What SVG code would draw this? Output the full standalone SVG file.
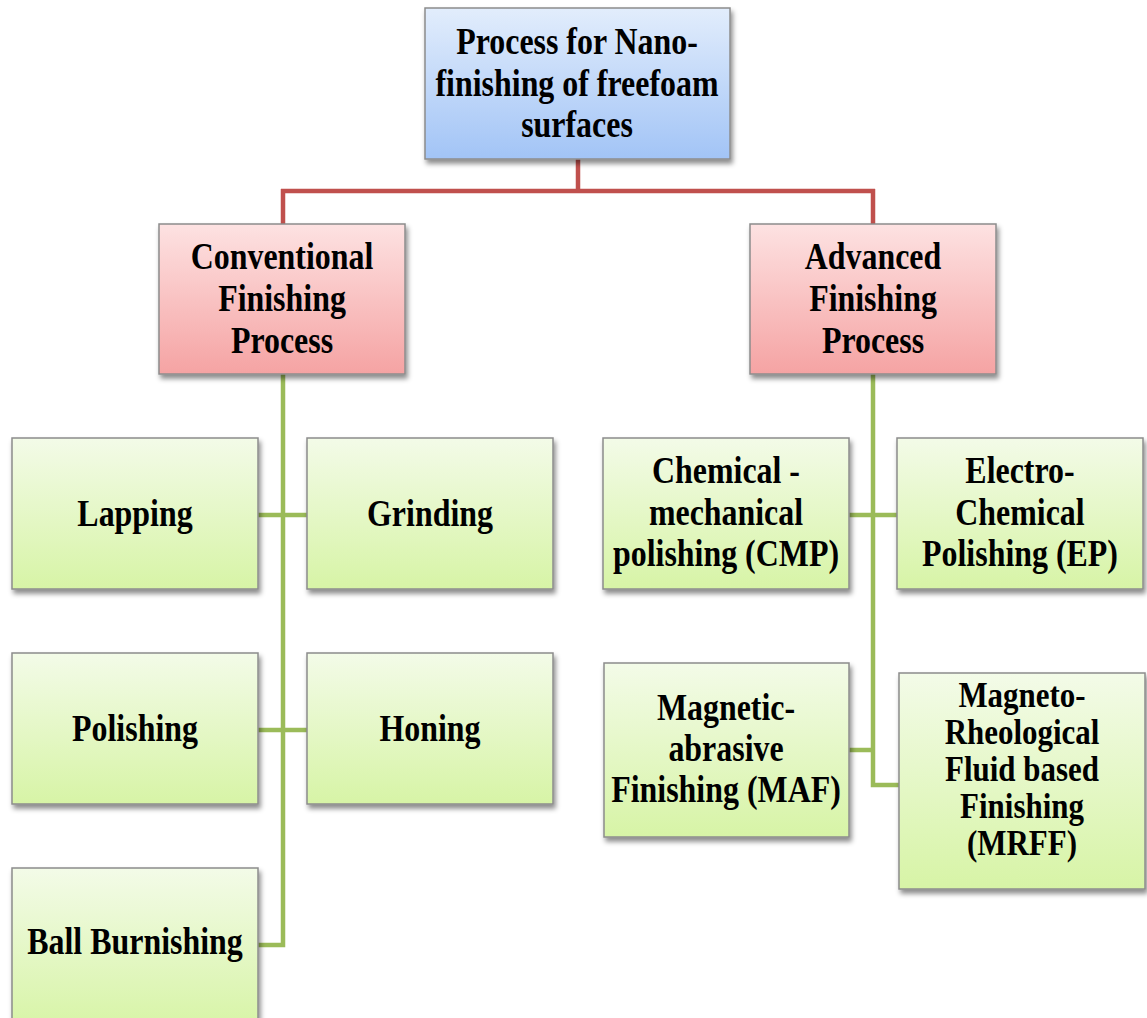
<svg xmlns="http://www.w3.org/2000/svg" width="1147" height="1018" viewBox="0 0 1147 1018">
<defs>
<linearGradient id="gBlue" x1="0" y1="0" x2="0" y2="1"><stop offset="0" stop-color="#e2edfc"/><stop offset="1" stop-color="#a2c4f6"/></linearGradient>
<linearGradient id="gRed" x1="0" y1="0" x2="0" y2="1"><stop offset="0" stop-color="#fde2e2"/><stop offset="1" stop-color="#f5a3a3"/></linearGradient>
<linearGradient id="gGreen" x1="0" y1="0" x2="0" y2="1"><stop offset="0" stop-color="#f3fbe8"/><stop offset="1" stop-color="#d7f4a6"/></linearGradient>
<filter id="sh" x="-10%" y="-10%" width="125%" height="130%"><feDropShadow dx="2" dy="4" stdDeviation="2.5" flood-color="#000" flood-opacity="0.45"/></filter>
</defs>
<style>
.box{stroke:#8c8c8c;stroke-width:1.5;filter:url(#sh)}
.blue{fill:url(#gBlue)}
.red{fill:url(#gRed)}
.green{fill:url(#gGreen)}
.t{font-family:"Liberation Serif","Times New Roman",serif;font-weight:bold;font-size:38px;fill:#000;text-anchor:middle}
.s{font-size:36px}
.cr{fill:none;stroke:#c0504d;stroke-width:4.5}
.cg{fill:none;stroke:#9bbb59;stroke-width:4.5}
</style>
<rect width="1147" height="1018" fill="#fff"/>
<g id="connectors">
<path class="cr" d="M578,159 V191 M281,191 H875 M283,189 V224 M873,189 V224"/>
<path class="cg" d="M283,374 V945 H258 M258,515 H307 M258,730 H307"/>
<path class="cg" d="M873,374 V785 H899 M848,515 H897 M848,750 H873"/>
</g>
<g id="root">
<rect class="box blue" x="425" y="8" width="305" height="151"/>
<text class="t" transform="translate(577,0) scale(0.84,1)"><tspan x="0" y="54">Process for Nano-</tspan><tspan x="0" y="96">finishing of freefoam</tspan><tspan x="0" y="137">surfaces</tspan></text>
</g>
<g id="conventional">
<rect class="box red" x="159" y="224" width="246" height="150"/>
<text class="t" transform="translate(282,0) scale(0.84,1)"><tspan x="0" y="269">Conventional</tspan><tspan x="0" y="311">Finishing</tspan><tspan x="0" y="353">Process</tspan></text>
</g>
<g id="advanced">
<rect class="box red" x="750" y="224" width="246" height="150"/>
<text class="t" transform="translate(873,0) scale(0.84,1)"><tspan x="0" y="269">Advanced</tspan><tspan x="0" y="311">Finishing</tspan><tspan x="0" y="353">Process</tspan></text>
</g>
<g id="lapping">
<rect class="box green" x="12" y="438" width="246" height="151"/>
<text class="t" transform="translate(135,0) scale(0.84,1)"><tspan x="0" y="526">Lapping</tspan></text>
</g>
<g id="grinding">
<rect class="box green" x="307" y="438" width="246" height="151"/>
<text class="t" transform="translate(430,0) scale(0.84,1)"><tspan x="0" y="526">Grinding</tspan></text>
</g>
<g id="polishing">
<rect class="box green" x="12" y="653" width="246" height="151"/>
<text class="t" transform="translate(135,0) scale(0.84,1)"><tspan x="0" y="741">Polishing</tspan></text>
</g>
<g id="honing">
<rect class="box green" x="307" y="653" width="246" height="151"/>
<text class="t" transform="translate(430,0) scale(0.84,1)"><tspan x="0" y="741">Honing</tspan></text>
</g>
<g id="ball-burnishing">
<rect class="box green" x="12" y="868" width="246" height="160"/>
<text class="t" transform="translate(135,0) scale(0.84,1)"><tspan x="0" y="954">Ball Burnishing</tspan></text>
</g>
<g id="cmp">
<rect class="box green" x="603" y="438" width="246" height="151"/>
<text class="t" transform="translate(726,0) scale(0.84,1)"><tspan x="0" y="483">Chemical -</tspan><tspan x="0" y="525">mechanical</tspan><tspan x="0" y="566">polishing (CMP)</tspan></text>
</g>
<g id="ep">
<rect class="box green" x="897" y="438" width="246" height="151"/>
<text class="t" transform="translate(1020,0) scale(0.84,1)"><tspan x="0" y="483">Electro-</tspan><tspan x="0" y="525">Chemical</tspan><tspan x="0" y="566">Polishing (EP)</tspan></text>
</g>
<g id="maf">
<rect class="box green" x="604" y="663" width="245" height="174"/>
<text class="t" transform="translate(726,0) scale(0.84,1)"><tspan x="0" y="720">Magnetic-</tspan><tspan x="0" y="761">abrasive</tspan><tspan x="0" y="802">Finishing (MAF)</tspan></text>
</g>
<g id="mrff">
<rect class="box green" x="899" y="673" width="246" height="216"/>
<text class="t s" transform="translate(1022,0) scale(0.86,1)"><tspan x="0" y="707">Magneto-</tspan><tspan x="0" y="744">Rheological</tspan><tspan x="0" y="781">Fluid based</tspan><tspan x="0" y="818">Finishing</tspan><tspan x="0" y="855">(MRFF)</tspan></text>
</g>
</svg>
